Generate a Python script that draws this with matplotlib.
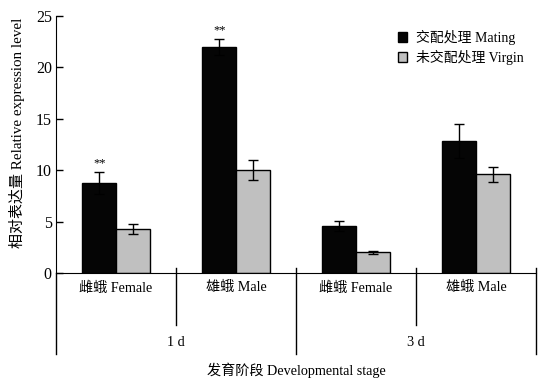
import matplotlib.pyplot as plt
import numpy as np

plt.rcParams['font.family'] = ['Liberation Serif', 'Noto Sans CJK SC']
plt.rcParams['font.size'] = 10

# 数据
groups = ['雌蛾 Female', '雄蛾 Male', '雌蛾 Female', '雄蛾 Male']
days = ['1 d', '3 d']
mating = [8.8, 22.0, 4.6, 12.8]
mating_err = [1.07, 0.8, 0.5, 1.65]
virgin = [4.25, 10.0, 2.0, 9.6]
virgin_err = [0.49, 0.97, 0.15, 0.7]
signif = ['**', '**', '', '']

x = np.arange(len(groups))
w = 0.28

fig = plt.figure(figsize=(5.4, 3.81), dpi=100)
ax = fig.add_axes([0.1037, 0.2835, 0.889, 0.6745])

ax.bar(x - w / 2, mating, w, color='#050505', edgecolor='black', linewidth=1,
       label='交配处理 Mating', zorder=2)
ax.bar(x + w / 2, virgin, w, color='#c0c0c0', edgecolor='black', linewidth=1,
       label='未交配处理 Virgin', zorder=2)
ax.errorbar(x - w / 2, mating, yerr=mating_err, fmt='none', ecolor='black',
            elinewidth=1, capsize=3.5, capthick=1, zorder=3)
ax.errorbar(x + w / 2, virgin, yerr=virgin_err, fmt='none', ecolor='black',
            elinewidth=1, capsize=3.5, capthick=1, zorder=3)

for xi, m, e, s in zip(x, mating, mating_err, signif):
    if s:
        ax.text(xi - w / 2, m + e + 0.2, s, ha='center', va='bottom', fontsize=9)

ax.set_xlim(-0.5, 3.5)
ax.set_ylim(0, 25)
ax.set_yticks([0, 5, 10, 15, 20, 25])
ax.set_xticks([])
ax.spines['top'].set_visible(False)
ax.spines['right'].set_visible(False)
ax.tick_params(axis='y', direction='in', length=5, width=1, labelsize=11.5, pad=3)
ax.set_ylabel('相对表达量 Relative expression level', fontsize=10.8)
ax.yaxis.set_label_coords(-0.064, 0.545)

trans = ax.get_xaxis_transform()
# 分组分隔线
for b in [0.5, 2.5]:
    ax.plot([b, b], [0.019, -0.202], color='black', lw=1, transform=trans, clip_on=False)
for b in [-0.5, 1.5, 3.5]:
    top = 0 if b == -0.5 else 0.019
    ax.plot([b, b], [top, -0.315], color='black', lw=1, transform=trans, clip_on=False)

for xi, g in zip(x, groups):
    ax.text(xi, -0.058, g, ha='center', va='center', transform=trans, fontsize=10.2)
for i, d in enumerate(days):
    ax.text(0.5 + 2 * i, -0.272, d, ha='center', va='center', transform=trans, fontsize=10.2)
ax.text(1.5, -0.377, '发育阶段 Developmental stage', ha='center', va='center',
        transform=trans, fontsize=10.2)

ax.legend(loc='upper right', bbox_to_anchor=(1.0, 0.995), frameon=False,
          handlelength=0.7, handleheight=0.7, handletextpad=0.6, labelspacing=0.35,
          fontsize=10)

fig.savefig('out.png', dpi=100)
